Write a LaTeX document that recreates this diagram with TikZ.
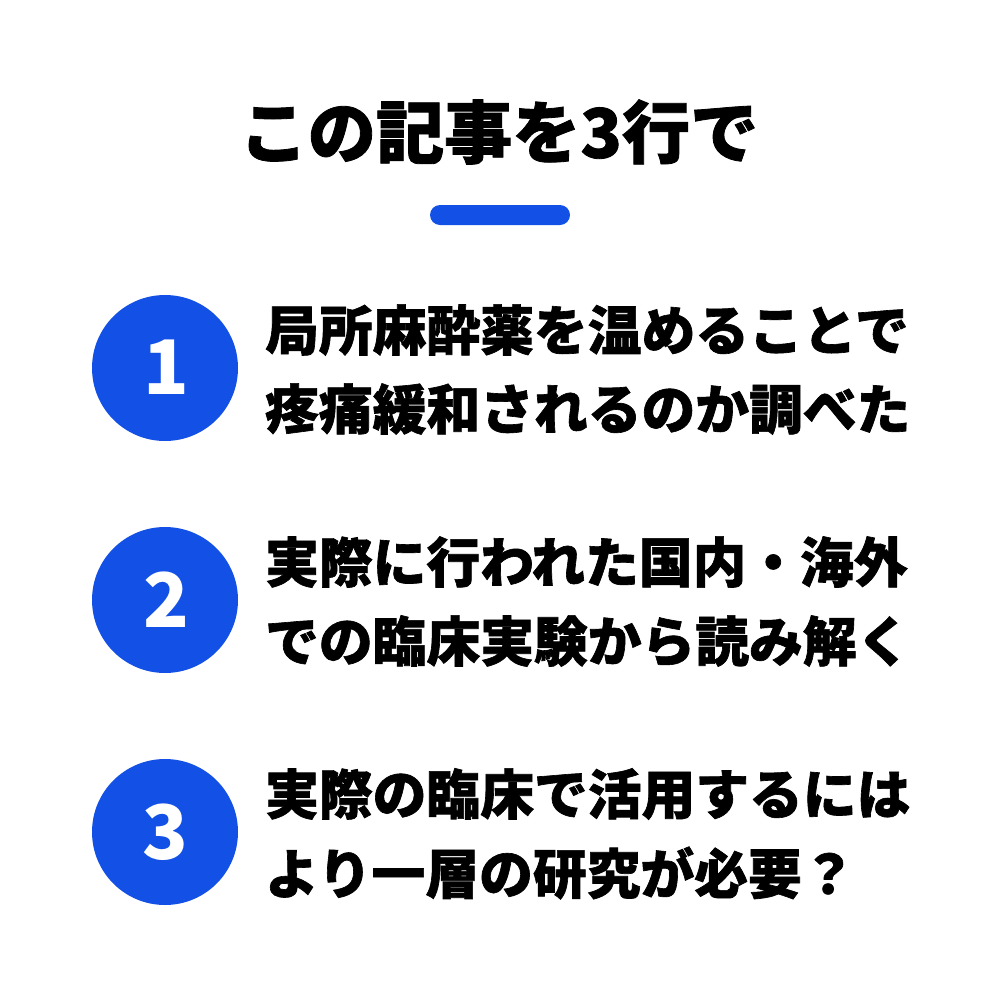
\documentclass[tikz,border=0pt]{standalone}
\usepackage{fontspec}
\newfontfamily\cjk{Noto Sans CJK JP Black}[FakeBold=1.2]
\newfontfamily\cjknum{Noto Sans CJK JP Black}
\definecolor{accent}{HTML}{1351E6}
\tikzset{
  badge/.style={circle,fill=accent,minimum size=7.3cm,inner sep=0pt},
  num/.style={inner sep=0pt,font=\fontsize{107}{107}\selectfont\cjknum,text=white},
  txtline/.style={anchor=west,inner sep=0pt,font=\fontsize{76.5}{76.5}\selectfont\cjk,text=black},
}
\begin{document}
\begin{tikzpicture}[x=0.05cm,y=-0.05cm]
\useasboundingbox (0,0) rectangle (1000,1000);
\fill[white] (0,0) rectangle (1000,1000);
\node[inner sep=0pt,font=\fontsize{97}{97}\selectfont\cjk] (title) at (499,132) {この記事を3行で};
\fill[accent,rounded corners=0.5cm] (430,205) rectangle (570,225);
\node[badge] (b1) at (165,368) {};
\node[num] (n1) at (166,367) {1};
\node[badge] (b2) at (165,600) {};
\node[num] (n2) at (166,600) {2};
\node[badge] (b3) at (165,832) {};
\node[num] (n3) at (165,832) {3};
\node[txtline] (l1) at (265,330) {局所麻酔薬を温めることで};
\node[txtline] (l2) at (265,409) {疼痛緩和されるのか調べた};
\node[txtline] (l3) at (265,562) {実際に行われた国内・海外};
\node[txtline] (l4) at (265,641) {での臨床実験から読み解く};
\node[txtline] (l5) at (265,794) {実際の臨床で活用するには};
\node[txtline] (l6) at (265,873) {より一層の研究が必要？};
\end{tikzpicture}
\end{document}
